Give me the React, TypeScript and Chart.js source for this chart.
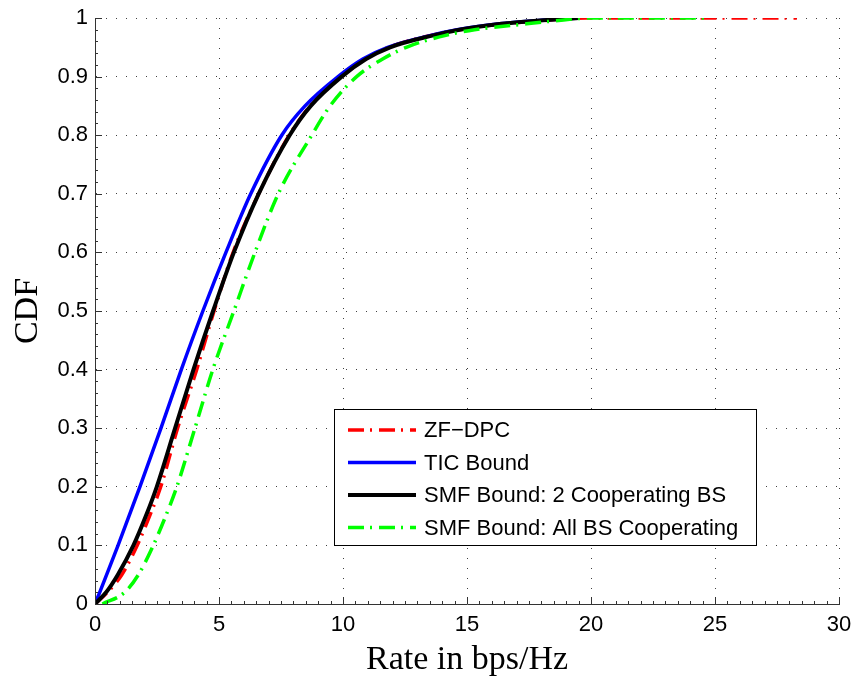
import React, { useEffect, useRef } from "react";
import { Chart, registerables } from "chart.js";

Chart.register(...registerables);

// CDF levels shared by all curves
const CDF_LEVELS = [0, 0.02, 0.05, 0.1, 0.15, 0.2, 0.3, 0.4, 0.5, 0.6, 0.7, 0.8, 0.85, 0.9, 0.93, 0.95, 0.97, 0.98, 0.99, 0.995, 1];

// Rate (bps/Hz) at which each curve reaches the corresponding CDF level
const ZF_DPC_RATES = [0, 0.5, 1.08, 1.7, 2.2, 2.65, 3.33, 4.1, 4.8, 5.57, 6.6, 7.83, 8.68, 9.93, 10.9, 11.85, 13.5, 14.7, 16.4, 17.9, 19.8];
const TIC_RATES = [0, 0.19, 0.47, 0.93, 1.37, 1.81, 2.66, 3.48, 4.35, 5.28, 6.28, 7.53, 8.47, 9.8, 10.8, 11.8, 13.5, 14.6, 16.3, 17.6, 19.4];
const SMF2_RATES = [0, 0.45, 0.92, 1.55, 2.05, 2.49, 3.23, 3.97, 4.76, 5.6, 6.6, 7.85, 8.7, 9.95, 10.93, 11.9, 13.6, 14.7, 16.4, 17.7, 19.5];
const SMF_ALL_RATES = [0.3, 1.2, 1.75, 2.35, 2.85, 3.3, 4.03, 4.75, 5.6, 6.45, 7.39, 8.74, 9.48, 10.55, 11.6, 12.55, 14.1, 15.3, 17.4, 18.5, 20.0];

// Largest rates observed (curve stays at CDF = 1 up to here)
const ZF_DPC_MAX_RATE = 28.3;
const SMF_ALL_MAX_RATE = 24.8;

const SERIES_NAMES = ["ZF\u2212DPC", "TIC Bound", "SMF Bound: 2 Cooperating BS", "SMF Bound: All BS Cooperating"];

const X_MIN = 0, X_MAX = 30, X_STEP = 5, X_MINOR = 0.5;
const Y_MIN = 0, Y_MAX = 1, Y_STEP = 0.1, Y_MINOR = 0.02;

const SANS = '"Liberation Sans", Arial, Helvetica, sans-serif';
const SERIF = '"Liberation Serif", "Times New Roman", serif';

const DASH_DOT = [16, 6, 2, 7];

function toPoints(rates: number[], maxRate?: number) {
  const pts = rates.map((r, i) => ({ x: r, y: CDF_LEVELS[i] }));
  if (maxRate !== undefined) pts.push({ x: maxRate, y: 1 });
  return pts;
}

const STYLES = [
  { color: "#ff0000", width: 3.5, dash: DASH_DOT },
  { color: "#0000ff", width: 3.5, dash: [] as number[] },
  { color: "#000000", width: 4, dash: [] as number[] },
  { color: "#00ff00", width: 3.5, dash: DASH_DOT },
];

const ticksPlugin = {
  id: "inwardTicks",
  afterDatasetsDraw(chart: any) {
    const { ctx, chartArea: a, scales } = chart;
    const x = scales.x, y = scales.y;
    ctx.save();
    ctx.strokeStyle = "#333";
    ctx.lineWidth = 1;
    ctx.beginPath();
    const nx = Math.round((X_MAX - X_MIN) / X_MINOR);
    for (let i = 0; i <= nx; i++) {
      const v = X_MIN + i * X_MINOR;
      const major = i % Math.round(X_STEP / X_MINOR) === 0;
      const px = Math.round(x.getPixelForValue(v)) + 0.5;
      const len = major ? 7 : 3;
      ctx.moveTo(px, a.bottom);
      ctx.lineTo(px, a.bottom - len);
    }
    const ny = Math.round((Y_MAX - Y_MIN) / Y_MINOR);
    for (let i = 0; i <= ny; i++) {
      const v = Y_MIN + i * Y_MINOR;
      const major = i % Math.round(Y_STEP / Y_MINOR) === 0;
      const py = Math.round(y.getPixelForValue(v)) + 0.5;
      const len = major ? 7 : 3;
      ctx.moveTo(a.left, py);
      ctx.lineTo(a.left + len, py);
    }
    ctx.stroke();
    ctx.restore();
  },
};

const legendPlugin = {
  id: "insideLegend",
  afterDraw(chart: any) {
    const { ctx, chartArea: a } = chart;
    const left = a.left + 239;
    const top = a.top + 391;
    const w = 422;
    const h = 136;
    ctx.save();
    ctx.fillStyle = "#fff";
    ctx.fillRect(left, top, w, h);
    ctx.strokeStyle = "#000";
    ctx.lineWidth = 1;
    ctx.strokeRect(left + 0.5, top + 0.5, w, h);
    ctx.font = `22px ${SANS}`;
    ctx.textBaseline = "middle";
    ctx.fillStyle = "#000";
    SERIES_NAMES.forEach((name, i) => {
      const cy = top + 21 + i * 32.5;
      const s = STYLES[i];
      ctx.save();
      ctx.strokeStyle = s.color;
      ctx.lineWidth = s.width;
      ctx.setLineDash(s.dash);
      ctx.beginPath();
      ctx.moveTo(left + 14, cy);
      ctx.lineTo(left + 82, cy);
      ctx.stroke();
      ctx.restore();
      ctx.fillText(name, left + 90, cy + 1);
    });
    ctx.restore();
  },
};

export default function App() {
  const canvasRef = useRef<HTMLCanvasElement | null>(null);

  useEffect(() => {
    const canvas = canvasRef.current;
    if (!canvas) return;
    const seriesData = [
      toPoints(ZF_DPC_RATES, ZF_DPC_MAX_RATE),
      toPoints(TIC_RATES),
      toPoints(SMF2_RATES),
      toPoints(SMF_ALL_RATES, SMF_ALL_MAX_RATE),
    ];
    const orders = [3, 2, 1, 0];
    const chart = new Chart(canvas, {
      type: "line",
      data: {
        datasets: seriesData.map((d, i) => ({
          label: SERIES_NAMES[i],
          data: d,
          borderColor: STYLES[i].color,
          borderWidth: STYLES[i].width,
          borderDash: STYLES[i].dash,
          pointRadius: 0,
          fill: false,
          cubicInterpolationMode: "monotone" as const,
          order: orders[i],
          borderCapStyle: "butt" as const,
        })),
      },
      options: {
        animation: false,
        responsive: false,
        layout: { padding: { top: 18, right: 15, left: 0, bottom: 0 } },
        plugins: { legend: { display: false }, tooltip: { enabled: false } },
        scales: {
          x: {
            type: "linear",
            min: X_MIN,
            max: X_MAX,
            afterFit: (s: any) => {
              s.height = 73;
              s.paddingLeft = 0;
              s.paddingRight = 0;
            },
            ticks: {
              stepSize: X_STEP,
              color: "#000",
              font: { family: SANS, size: 22 },
              padding: 8,
              maxRotation: 0,
            },
            grid: { color: "rgba(0,0,0,0.75)", lineWidth: 1, drawTicks: false },
            border: { display: true, color: "#333", width: 1, dash: [1, 9] },
            title: {
              display: true,
              text: "Rate in bps/Hz",
              color: "#000",
              font: { family: SERIF, size: 34, lineHeight: 1 },
              padding: { top: 0, bottom: 0 },
            },
          },
          y: {
            type: "linear",
            min: Y_MIN,
            max: Y_MAX,
            afterFit: (s: any) => {
              s.width = 95;
              s.paddingTop = 0;
              s.paddingBottom = 0;
            },
            ticks: {
              stepSize: Y_STEP,
              color: "#000",
              font: { family: SANS, size: 22 },
              padding: 7,
              callback: (v: any) => String(Math.round(Number(v) * 10) / 10),
            },
            grid: { color: "rgba(0,0,0,0.75)", lineWidth: 1, drawTicks: false },
            border: { display: true, color: "#333", width: 1, dash: [1, 9] },
            title: {
              display: true,
              text: "CDF",
              color: "#000",
              font: { family: SERIF, size: 34, lineHeight: 1 },
              padding: { top: 11, bottom: 0 },
            },
          },
        },
      },
      plugins: [ticksPlugin, legendPlugin],
    } as any);
    return () => chart.destroy();
  }, []);

  return (
    <div style={{ position: "fixed", left: 0, top: 0, width: 854, height: 677, background: "#fff" }}>
      <canvas ref={canvasRef} width={854} height={677} style={{ display: "block" }} />
    </div>
  );
}
